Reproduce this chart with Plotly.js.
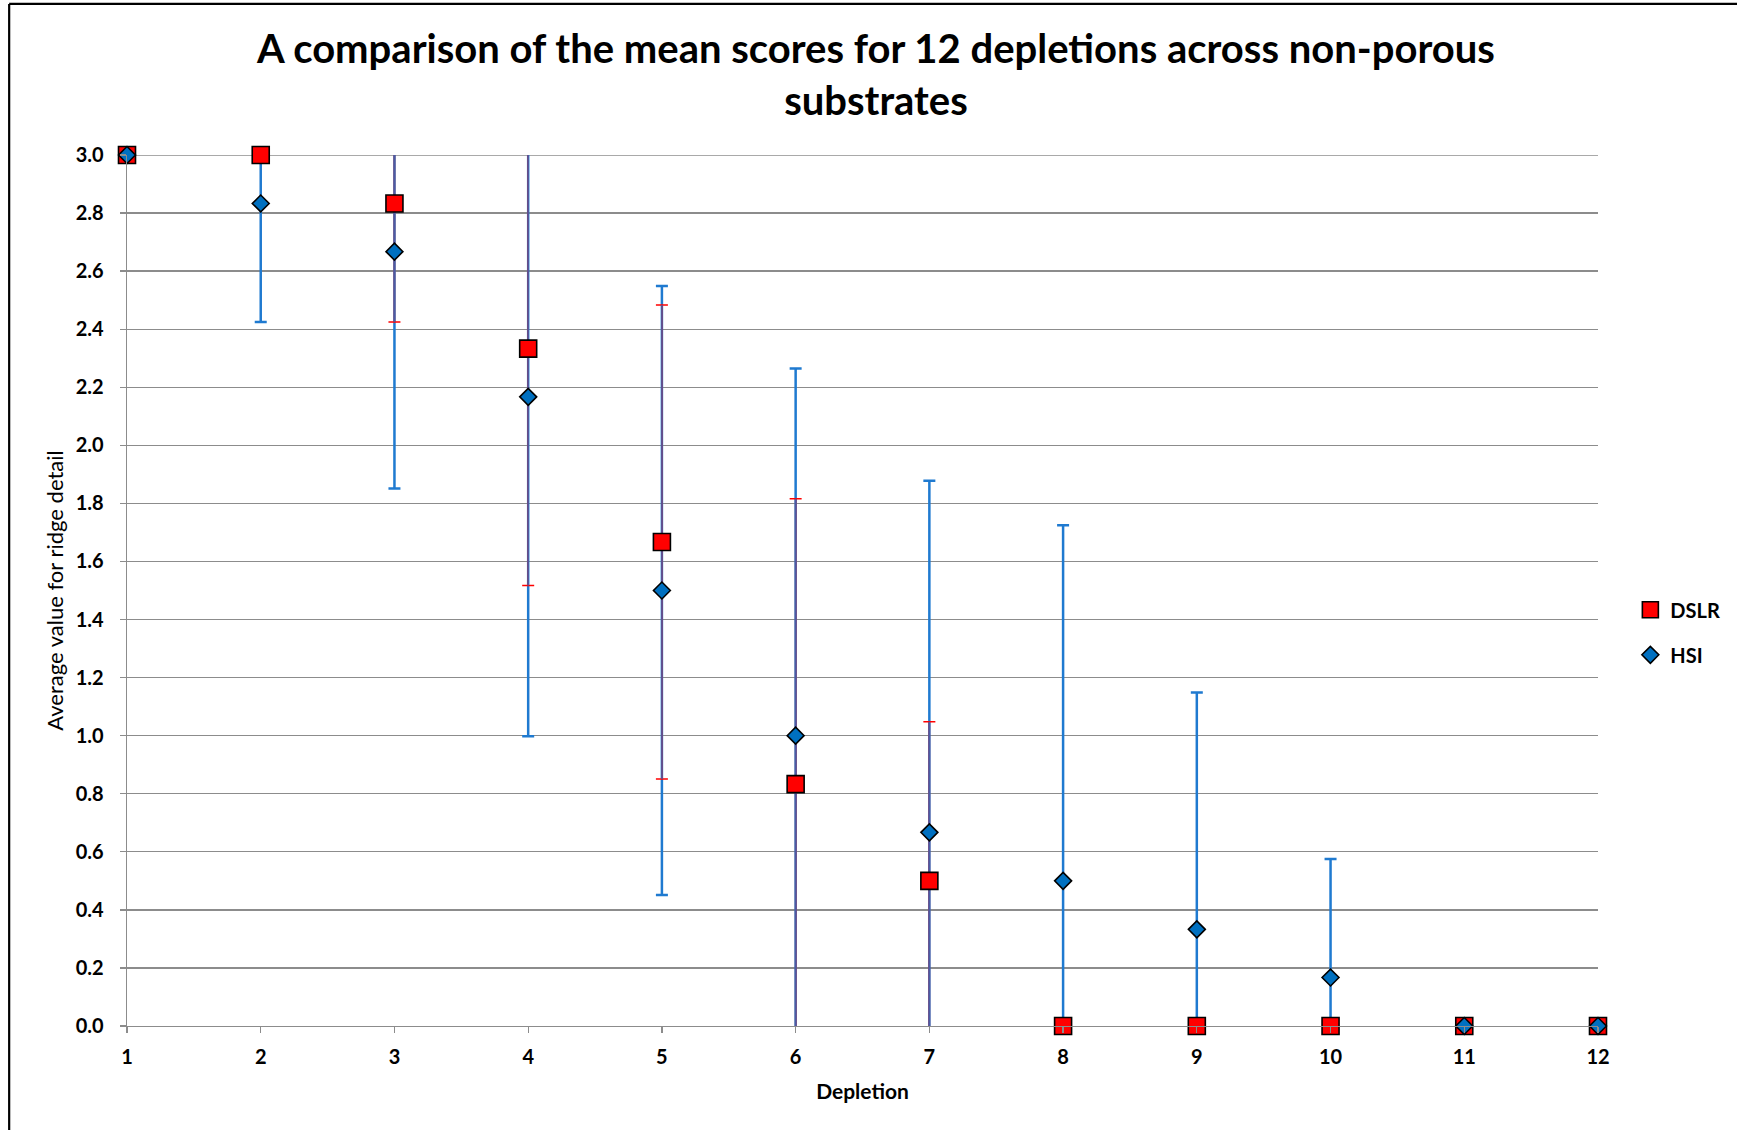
<!DOCTYPE html>
<html>
<head>
<meta charset="utf-8">
<script src="https://cdn.plot.ly/plotly-3.0.1.min.js"></script>
<style>html,body{margin:0;padding:0;background:#fff;}#chart{width:1737px;height:1130px;}</style>
</head>
<body>
<div id="chart"></div>
<script>
// Data
var depletion = [1, 2, 3, 4, 5, 6, 7, 8, 9, 10, 11, 12];
var dslrMean  = [3.0, 3.0, 2.833, 2.333, 1.667, 0.833, 0.5, 0, 0, 0, 0, 0];
var dslrErr   = [0, 0, 0.408, 0.816, 0.816, 0.983, 0.548, 0, 0, 0, 0, 0];
var hsiMean   = [3.0, 2.833, 2.667, 2.167, 1.5, 1.0, 0.667, 0.5, 0.333, 0.167, 0, 0];
var hsiErr    = [0, 0.408, 0.816, 1.169, 1.049, 1.265, 1.211, 1.225, 0.816, 0.408, 0, 0];
var yTicks    = [0, 0.2, 0.4, 0.6, 0.8, 1.0, 1.2, 1.4, 1.6, 1.8, 2.0, 2.2, 2.4, 2.6, 2.8, 3.0];

var FONT = 'Lato, "Open Sans", sans-serif';
var hidden = {size: 1, color: 'rgba(0,0,0,0)'};
var yMax = yTicks[yTicks.length - 1];

var traces = [
  // HSI error bars (blue)
  {x: depletion, y: hsiMean, type: 'scatter', mode: 'markers', marker: hidden,
   showlegend: false, hoverinfo: 'skip', cliponaxis: true,
   error_y: {type: 'data', array: hsiErr, symmetric: true, color: '#1f7ad0', thickness: 2.5, width: 6}},
  // DSLR error bar caps (red)
  {x: depletion, y: dslrMean, type: 'scatter', mode: 'markers', marker: hidden,
   showlegend: false, hoverinfo: 'skip', cliponaxis: true,
   error_y: {type: 'data', array: dslrErr, symmetric: true, color: '#ff0000', thickness: 1.5, width: 6}},
  // DSLR error bar stems
  {x: depletion, y: dslrMean, type: 'scatter', mode: 'markers', marker: hidden,
   showlegend: false, hoverinfo: 'skip', cliponaxis: true,
   error_y: {type: 'data', array: dslrErr, symmetric: true, color: '#4a5ca4', thickness: 1.6, width: 0}},
  // DSLR markers
  {x: depletion, y: dslrMean, type: 'scatter', mode: 'markers', name: 'DSLR', cliponaxis: false,
   legendgroup: 'dslr',
   marker: {symbol: 'square', size: 17, color: '#ff0000', line: {color: '#000000', width: 1.6}}},
  // HSI markers
  {x: depletion, y: hsiMean, type: 'scatter', mode: 'markers', name: 'HSI', cliponaxis: false,
   legendgroup: 'hsi',
   marker: {symbol: 'diamond', size: 13, color: '#0070c0', line: {color: '#000000', width: 1.6}}}
];

var layout = {
  width: 1737, height: 1130,
  paper_bgcolor: '#ffffff', plot_bgcolor: '#ffffff',
  margin: {l: 127, r: 133, t: 155, b: 104},
  font: {family: FONT, color: '#000000'},
  title: {
    text: 'A comparison of the mean scores for 12 depletions across non-porous<br>substrates',
    font: {family: FONT, size: 40, weight: 'bold', color: '#000000'},
    xref: 'container', yref: 'container', x: 0.5043, y: 0.9445, xanchor: 'center', yanchor: 'middle'
  },
  xaxis: {
    range: [1, 12], tickmode: 'array', tickvals: depletion, ticktext: depletion.map(String),
    showgrid: false, zeroline: false, showline: true, linecolor: '#8c8c8c', linewidth: 1.3,
    ticks: 'outside', ticklen: 6, tickcolor: '#8c8c8c', tickwidth: 1.3, ticklabelstandoff: 7,
    tickfont: {family: FONT, size: 20, weight: 'bold', color: '#000000'},
    title: {text: 'Depletion', font: {family: FONT, size: 21, weight: 'bold', color: '#000000'}, standoff: 17}
  },
  yaxis: {
    range: [0, yMax], tickmode: 'array', tickvals: yTicks, ticktext: yTicks.map(function(v){return v.toFixed(1);}),
    showgrid: true, gridcolor: '#8c8c8c', gridwidth: 1.3, zeroline: false,
    showline: true, linecolor: '#8c8c8c', linewidth: 1.3,
    ticks: 'outside', ticklen: 6, tickcolor: '#8c8c8c', tickwidth: 1.3, ticklabelstandoff: 12,
    tickfont: {family: FONT, size: 20, weight: 'bold', color: '#000000'},
    title: {text: 'Average value for ridge detail', font: {family: FONT, size: 22, color: '#000000'}, standoff: 6}
  },
  legend: {
    x: 1.022, y: 0.452, xanchor: 'left', yanchor: 'middle',
    font: {family: FONT, size: 20, weight: 'bold', color: '#000000'},
    bgcolor: 'rgba(0,0,0,0)', itemwidth: 30, tracegroupgap: 16
  },
  shapes: [
    // top gridline (at the upper end of the y range)
    {type: 'line', xref: 'paper', yref: 'y', x0: 0, x1: 1, y0: yMax, y1: yMax, layer: 'below',
     line: {color: '#8c8c8c', width: 1.3}},
    // outer chart border (top and left)
    {type: 'line', xref: 'paper', yref: 'paper', x0: -0.0801, x1: 1.1, y0: 1.1734, y1: 1.1734,
     line: {color: '#000000', width: 2.2}},
    {type: 'line', xref: 'paper', yref: 'paper', x0: -0.0801, x1: -0.0801, y0: 1.1734, y1: -0.13,
     line: {color: '#000000', width: 2.2}}
  ],
  showlegend: true
};

Plotly.newPlot('chart', traces, layout, {displayModeBar: false, staticPlot: true});
</script>
</body>
</html>
